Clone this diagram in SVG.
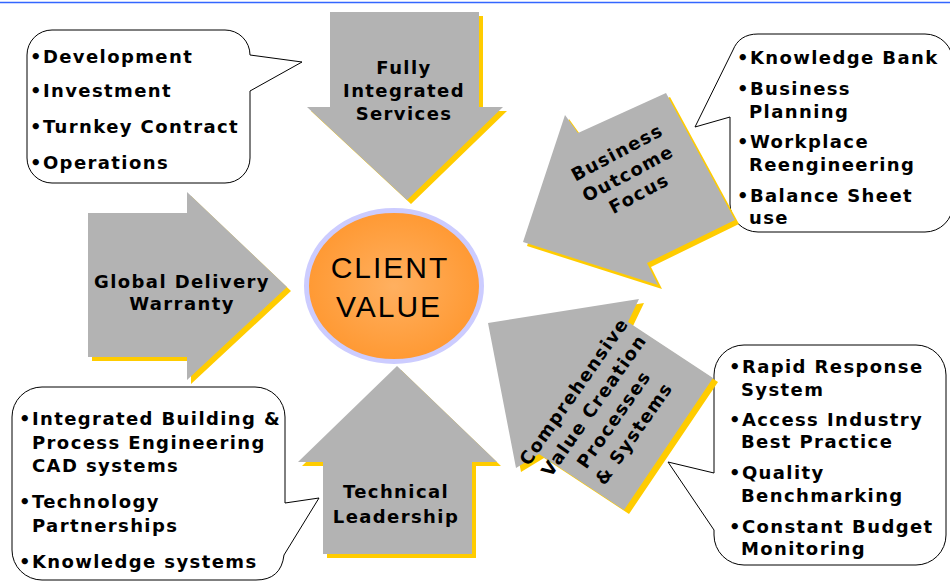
<svg xmlns="http://www.w3.org/2000/svg" width="950" height="585" viewBox="0 0 950 585">
<defs>
<style>
.arrow{fill:#b3b3b3;}
.shadow{fill:#ffcc00;}
.callout{fill:#ffffff;stroke:#000000;stroke-width:1;}
.t{font-family:"DejaVu Sans",Verdana,sans-serif;font-weight:bold;font-size:18px;letter-spacing:1.4px;fill:#000000;}
.c{text-anchor:middle;}
.cv{font-family:"Liberation Sans",Arial,sans-serif;font-size:30px;letter-spacing:2px;fill:#000000;text-anchor:middle;}
</style>
<radialGradient id="orange" cx="50%" cy="50%" r="50%">
<stop offset="0" stop-color="#ffb060"/>
<stop offset="1" stop-color="#ff9933"/>
</radialGradient>
</defs>
<rect width="950" height="585" fill="#ffffff"/>
<line x1="0" y1="2.5" x2="950" y2="2.5" stroke="#3366ff" stroke-width="1.5"/>

<g id="connectors"></g>

<g id="callout-top-left">
<path class="callout" d="M52,30 H225 A25,25 0 0 1 250,55 L302,62 L250,91 V158 A25,25 0 0 1 225,183 H52 A25,25 0 0 1 27,158 V55 A25,25 0 0 1 52,30 Z"/>
<text class="t" x="30" y="63">•Development</text>
<text class="t" x="30" y="97">•Investment</text>
<text class="t" x="30" y="133">•Turnkey Contract</text>
<text class="t" x="30" y="169">•Operations</text>
</g>

<g id="callout-top-right">
<path class="callout" d="M758,34 H925 A28,28 0 0 1 953,62 V204 A28,28 0 0 1 925,232 H758 A28,28 0 0 1 730,204 V117 L695,127 L733,50 C737,40 745,34 758,34 Z"/>
<text class="t" x="737" y="64">•Knowledge Bank</text>
<text class="t" x="737" y="95">•Business</text>
<text class="t" x="749" y="118">Planning</text>
<text class="t" x="737" y="148">•Workplace</text>
<text class="t" x="749" y="171">Reengineering</text>
<text class="t" x="737" y="202">•Balance Sheet</text>
<text class="t" x="749" y="224">use</text>
</g>

<g id="callout-bottom-left">
<path class="callout" d="M42,387 H255 A30,30 0 0 1 285,417 V503 L319,498 L284,555 Q281,580 256,580 H42 A30,30 0 0 1 12,550 V417 A30,30 0 0 1 42,387 Z"/>
<text class="t" x="19" y="425">•Integrated Building &amp;</text>
<text class="t" x="32" y="449">Process Engineering</text>
<text class="t" x="32" y="472">CAD systems</text>
<text class="t" x="19" y="508">•Technology</text>
<text class="t" x="32" y="532">Partnerships</text>
<text class="t" x="19" y="568">•Knowledge systems</text>
</g>

<g id="callout-bottom-right">
<path class="callout" d="M744,345 H916 A30,30 0 0 1 946,375 V535 A30,30 0 0 1 916,565 H744 A30,30 0 0 1 714,535 V530 L668,462 L714,473 V375 A30,30 0 0 1 744,345 Z"/>
<text class="t" x="729" y="373">•Rapid Response</text>
<text class="t" x="741" y="396">System</text>
<text class="t" x="729" y="426">•Access Industry</text>
<text class="t" x="741" y="448">Best Practice</text>
<text class="t" x="729" y="479">•Quality</text>
<text class="t" x="741" y="502">Benchmarking</text>
<text class="t" x="729" y="533">•Constant Budget</text>
<text class="t" x="741" y="555">Monitoring</text>
</g>

<g id="arrow-fully-integrated">
<polygon class="shadow" transform="translate(4,4)" points="330,12 479,12 479,107 503,107 407,200 307,107 330,107"/>
<polygon class="arrow" points="330,12 479,12 479,107 503,107 407,200 307,107 330,107"/>
<text class="t c" x="404" y="74">Fully</text>
<text class="t c" x="404" y="97">Integrated</text>
<text class="t c" x="404" y="120">Services</text>
</g>

<g id="arrow-global-delivery">
<polygon class="shadow" transform="translate(4,4)" points="88,213 187,213 187,192 287,287 187,380 187,357 88,357"/>
<polygon class="arrow" points="88,213 187,213 187,192 287,287 187,380 187,357 88,357"/>
<text class="t c" x="182" y="288">Global Delivery</text>
<text class="t c" x="182" y="310">Warranty</text>
</g>

<g id="arrow-technical-leadership">
<polygon class="shadow" transform="translate(4,4)" points="397,366 497,462 472,462 472,554 323,554 323,462 298,462"/>
<polygon class="arrow" points="397,366 497,462 472,462 472,554 323,554 323,462 298,462"/>
<text class="t c" x="396" y="498">Technical</text>
<text class="t c" x="396" y="523">Leadership</text>
</g>

<g id="arrow-business-outcome">
<polygon class="shadow" transform="translate(4,4)" points="666,93 735,220 647,263 658,285 523,242 565,115 578,133"/>
<polygon class="arrow" points="666,93 735,220 647,263 658,285 523,242 565,115 578,133"/>
<text class="t c" transform="translate(620,158) rotate(-28)">Business</text>
<text class="t c" transform="translate(631,179) rotate(-28)">Outcome</text>
<text class="t c" transform="translate(642,199) rotate(-28)">Focus</text>
</g>

<g id="arrow-comprehensive">
<polygon class="shadow" transform="translate(5,4)" points="488,323 639,299 628,322 713,378 624,510 539,454 516,468"/>
<polygon class="arrow" points="488,323 639,299 628,322 713,378 624,510 539,454 516,468"/>
<text class="t c" transform="translate(579,395) rotate(-55)">Comprehensive</text>
<text class="t c" transform="translate(599,409) rotate(-55)">Value Creation</text>
<text class="t c" transform="translate(619,423) rotate(-55)">Processes</text>
<text class="t c" transform="translate(639,437) rotate(-55)">&amp; Systems</text>
</g>

<g id="client-value">
<ellipse cx="394" cy="286" rx="87.5" ry="75.5" fill="url(#orange)" stroke="#ccccff" stroke-width="5"/>
<text class="cv" x="390" y="278">CLIENT</text>
<text class="cv" x="389" y="317">VALUE</text>
</g>
</svg>
